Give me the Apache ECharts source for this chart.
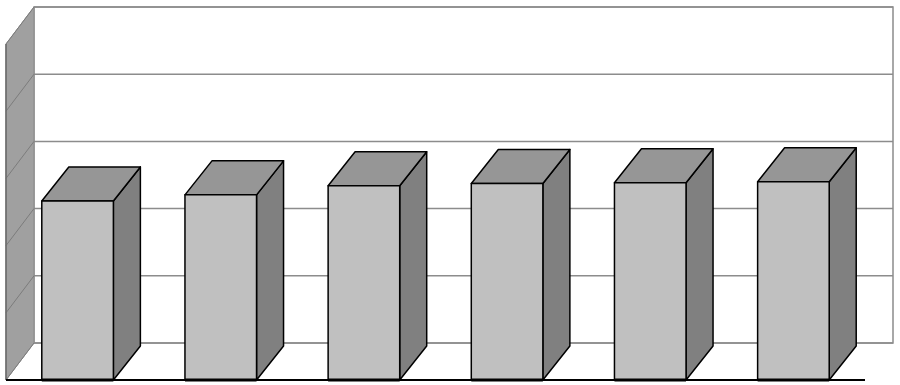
<!DOCTYPE html>
<html><head><meta charset="utf-8">
<script src="https://cdn.jsdelivr.net/npm/echarts@6/dist/echarts.min.js"></script>
<style>html,body{margin:0;padding:0;background:#fff}#c{width:900px;height:385px}</style>
</head><body><div id="c"></div>
<script>
const categories = ['1', '2', '3', '4', '5', '6'];
const values = [53.3, 55.1, 57.8, 58.5, 58.7, 59.0];
const yTicks = [0, 20, 40, 60, 80, 100];

const WALL_DX = 28, WALL_DY = -37;
const BAR_DX = 27, BAR_DY = -34;

const chart = echarts.init(document.getElementById('c'), null, { renderer: 'canvas' });
chart.setOption({
  animation: false,
  grid: { left: 6, top: 44, width: 859, height: 336 },
  xAxis: { type: 'category', data: categories, show: false },
  yAxis: { type: 'value', min: 0, max: 100, interval: 20, show: false },
  series: [
    {
      type: 'custom', z: 1, silent: true,
      data: [[0, 0]],
      renderItem(params, api) {
        const cs = params.coordSys;
        const x0 = cs.x, x1 = cs.x + cs.width, yT = cs.y, yB = cs.y + cs.height;
        const ch = [];
        ch.push({ type: 'rect', shape: { x: x0 + WALL_DX, y: yT + WALL_DY, width: cs.width, height: cs.height },
          style: { fill: '#ffffff', stroke: '#8c8c8c', lineWidth: 1.5 } });
        ch.push({ type: 'polygon', shape: { points: [[x0, yT], [x0 + WALL_DX, yT + WALL_DY], [x0 + WALL_DX, yB + WALL_DY], [x0, yB]] },
          style: { fill: '#a0a0a0', stroke: '#8a8a8a', lineWidth: 1 } });
        yTicks.forEach(t => {
          const y = api.coord([0, t])[1];
          ch.push({ type: 'line', shape: { x1: x0 + WALL_DX, y1: y + WALL_DY, x2: x1 + WALL_DX, y2: y + WALL_DY },
            style: { stroke: '#8c8c8c', lineWidth: 1.5 } });
          ch.push({ type: 'line', shape: { x1: x0, y1: y, x2: x0 + WALL_DX, y2: y + WALL_DY },
            style: { stroke: '#7c7c7c', lineWidth: 1 } });
        });
        ch.push({ type: 'line', shape: { x1: x0, y1: yT, x2: x0, y2: yB }, style: { stroke: '#6a6a6a', lineWidth: 1.5 } });
        ch.push({ type: 'line', shape: { x1: x0, y1: yB, x2: x1, y2: yB }, style: { stroke: '#000000', lineWidth: 2 } });
        return { type: 'group', children: ch };
      }
    },
    {
      type: 'custom', z: 2, silent: true,
      data: values.map((v, i) => [i, v]),
      encode: { x: 0, y: 1 },
      renderItem(params, api) {
        const p0 = api.coord([api.value(0), 0]);
        const p1 = api.coord([api.value(0), api.value(1)]);
        const bw = api.size([1, 0])[0] * 0.5;
        const xl = p1[0] - bw / 2, xr = p1[0] + bw / 2, yt = p1[1], yb = p0[1];
        const st = { stroke: '#000000', lineWidth: 1.5, lineJoin: 'round' };
        return { type: 'group', children: [
          { type: 'polygon', shape: { points: [[xr, yt], [xr + BAR_DX, yt + BAR_DY], [xr + BAR_DX, yb + BAR_DY], [xr, yb]] },
            style: Object.assign({ fill: '#808080' }, st) },
          { type: 'polygon', shape: { points: [[xl, yt], [xl + BAR_DX, yt + BAR_DY], [xr + BAR_DX, yt + BAR_DY], [xr, yt]] },
            style: Object.assign({ fill: '#969696' }, st) },
          { type: 'rect', shape: { x: xl, y: yt, width: bw, height: yb - yt },
            style: Object.assign({ fill: '#c0c0c0' }, st) },
          { type: 'line', shape: { x1: xl, y1: yb, x2: xr, y2: yb }, style: { stroke: '#000000', lineWidth: 3 } }
        ] };
      }
    }
  ]
});
</script></body></html>
